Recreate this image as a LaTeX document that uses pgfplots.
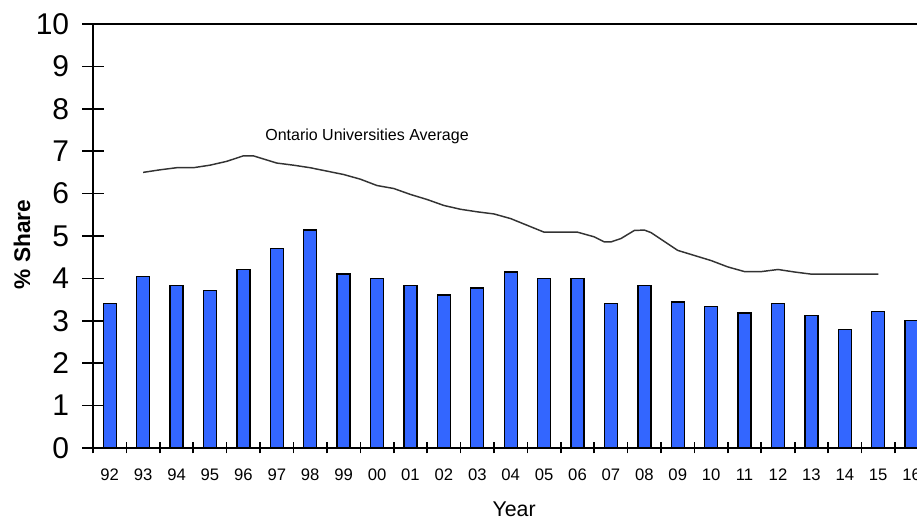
\documentclass[border=0pt]{standalone}
\usepackage{fontspec}
\setmainfont{Liberation Sans}
\usepackage{pgfplots}
\pgfplotsset{compat=1.18}
\definecolor{barblue}{HTML}{3366FF}
\definecolor{linegray}{HTML}{333333}

\pgfplotstableread{
idx share
0  3.40
1  4.05
2  3.84
3  3.72
4  4.21
5  4.70
6  5.14
7  4.10
8  3.99
9  3.84
10 3.61
11 3.77
12 4.15
13 3.99
14 3.99
15 3.40
16 3.84
17 3.44
18 3.34
19 3.18
20 3.40
21 3.12
22 2.79
23 3.22
24 3.01
}\sharedata

\pgfplotstableread{
idx avg
1    6.50
1.5  6.56
2    6.61
2.5  6.61
3    6.67
3.5  6.76
4    6.89
4.3  6.89
5    6.72
5.5  6.67
6    6.61
6.5  6.53
7    6.45
7.5  6.34
8    6.19
8.5  6.12
9    5.98
9.5  5.86
10   5.72
10.5 5.63
11   5.57
11.5 5.52
12   5.41
12.5 5.25
13   5.09
13.5 5.09
14   5.09
14.5 4.98
14.8 4.86
15   4.86
15.3 4.94
15.7 5.13
16   5.14
16.2 5.08
16.6 4.87
17   4.66
17.5 4.54
18   4.42
18.5 4.27
19   4.16
19.5 4.16
20   4.21
20.5 4.15
21   4.10
22   4.10
23   4.10
}\avgdata

\begin{document}
\begin{tikzpicture}
\begin{axis}[
    scale only axis,
    width=618pt, height=318pt,
    xmin=-0.5, xmax=24.16,
    ymin=0, ymax=10,
    axis x line*=bottom,
    axis y line*=left,
    axis line style={line width=1.2pt},
    clip=true,
    tick align=center,
    major tick length=15.75pt,
    minor tick length=8.25pt,
    tick style={line width=1.2pt, black},
    xtick={0,...,24},
    xticklabels={92,93,94,95,96,97,98,99,00,01,02,03,04,05,06,07,08,09,10,11,12,13,14,15,16},
    major x tick style={draw=none},
    minor xtick={-0.5,0.5,...,24.5},
    ytick={0,...,10},
    extra y ticks={10},
    extra y tick labels={},
    extra y tick style={grid=major, major grid style={line width=1.2pt, black}},
    /pgf/number format/assume math mode=true,
    xticklabel style={font=\fontsize{12.5}{14}\selectfont, yshift=-4pt},
    yticklabel style={font=\fontsize{22.5}{26}\selectfont, xshift=-6.5pt},
    xlabel={Year},
    ylabel={\textbf{\% Share}},
    xlabel style={font=\fontsize{16}{18}\selectfont, at={(axis description cs:0.511,0)}, anchor=center, yshift=-45.75pt},
    ylabel style={font=\fontsize{17}{19}\selectfont, at={(axis description cs:-0.0862,0.48)}, anchor=center},
]
\addplot[ybar, bar width=9.75pt, fill=barblue, draw=black, line width=1pt]
    table[x=idx, y=share] {\sharedata};
\addplot[linegray, line width=1.1pt, no marks]
    table[x=idx, y=avg] {\avgdata};
\node[font=\fontsize{12}{14}\selectfont] at (axis cs:7.7,7.36) {Ontario Universities Average};
\end{axis}
\pgfresetboundingbox
\path[use as bounding box] ([shift={(-69.75pt,-56.25pt)}]current axis.south west) rectangle ([shift={(0pt,18pt)}]current axis.north east);
\end{tikzpicture}
\end{document}
